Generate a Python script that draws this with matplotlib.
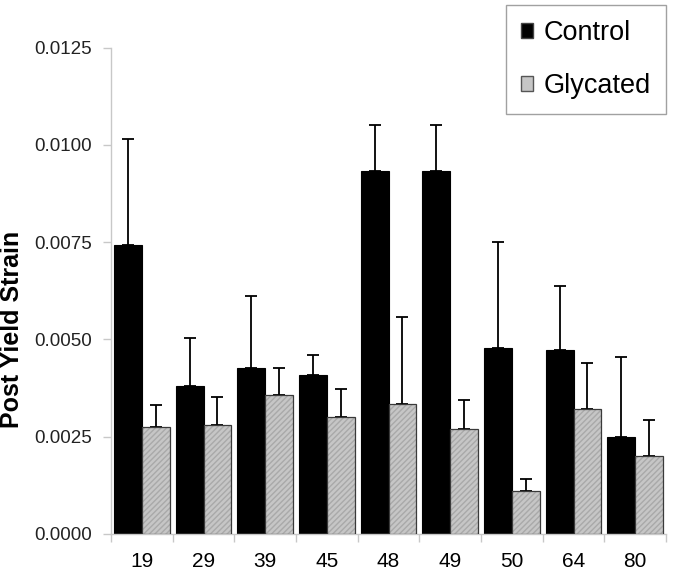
import numpy as np
import matplotlib
matplotlib.use("Agg")
import matplotlib.pyplot as plt
from matplotlib.patches import Patch

plt.rcParams['font.family'] = ['Liberation Sans', 'DejaVu Sans']

groups = ['19', '29', '39', '45', '48', '49', '50', '64', '80']
control = [0.00742, 0.00380, 0.00426, 0.00408, 0.00932, 0.00932, 0.00477, 0.00472, 0.00249]
control_top = [0.01016, 0.00503, 0.00611, 0.00459, 0.01050, 0.01050, 0.00750, 0.00637, 0.00454]
glycated = [0.00275, 0.00280, 0.00357, 0.00300, 0.00334, 0.00270, 0.00110, 0.00321, 0.00200]
glycated_top = [0.00331, 0.00352, 0.00426, 0.00372, 0.00557, 0.00344, 0.00141, 0.00439, 0.00293]

control = np.array(control)
glycated = np.array(glycated)
control_err = np.array(control_top) - control
glycated_err = np.array(glycated_top) - glycated

x = np.arange(len(groups))
w = 0.45

fig = plt.figure(figsize=(6.74, 5.72), dpi=100)
ax = fig.add_axes([111/674, 1-534/572, 555/674, (534-47.5)/572])

# control bars + upper error bars
ax.bar(x - w/2, control, w, color='black', edgecolor='black', linewidth=0.8, zorder=2)
ax.errorbar(x - w/2, control, yerr=[np.zeros_like(control_err), control_err],
            fmt='none', ecolor='black', elinewidth=1.3, capsize=4.5, capthick=1.3, zorder=1)

# glycated bars: hatched fill then a dark outline
ax.bar(x + w/2, glycated, w, color='#c6c6c6', edgecolor='#a9a9a9', hatch='//////',
       linewidth=0, zorder=2)
ax.bar(x + w/2, glycated, w, fill=False, edgecolor='#3a3a3a', linewidth=0.9, zorder=3)
ax.errorbar(x + w/2, glycated, yerr=[np.zeros_like(glycated_err), glycated_err],
            fmt='none', ecolor='black', elinewidth=1.3, capsize=4.5, capthick=1.3, zorder=1)

ax.set_xlim(-0.5, len(groups) - 0.5)
ax.set_ylim(0, 0.0125)
ax.set_yticks(np.arange(0, 0.01251, 0.0025))
ax.set_yticklabels([f'{v:.4f}' for v in np.arange(0, 0.01251, 0.0025)], fontsize=13.5)
ax.set_xticks(x)
ax.set_xticklabels(groups, fontsize=15)
ax.set_xticks(np.arange(-0.5, len(groups)), minor=True)
ax.tick_params(axis='x', which='major', length=0, pad=13)
ax.tick_params(axis='x', which='minor', length=6, color='#c8c8c8', width=1)
ax.tick_params(axis='y', length=6, color='#c8c8c8', width=1, pad=8, labelcolor='#222222')

for s in ['top', 'right']:
    ax.spines[s].set_visible(False)
ax.spines['left'].set_color('#c8c8c8')
ax.spines['bottom'].set_color('#c8c8c8')
ax.spines['left'].set_linewidth(1)
ax.spines['bottom'].set_linewidth(1)

ax.set_ylabel('Post Yield Strain', fontsize=18, fontweight='bold')
ax.yaxis.set_label_coords(-0.157, 0.42)

handles = [Patch(facecolor='black', edgecolor='#444444'),
           Patch(facecolor='#c6c6c6', edgecolor='#555555')]
leg = fig.legend(handles, ['Control', 'Glycated'], loc='upper right',
                 bbox_to_anchor=(666/674, 1-5/572), fontsize=19.5, frameon=True,
                 fancybox=False, handlelength=0.45, handleheight=0.45,
                 handletextpad=0.4, labelspacing=1.0, borderpad=0.55, borderaxespad=0)
leg.get_frame().set_edgecolor('#8a8a8a')
leg.get_frame().set_linewidth(1)

fig.savefig('out.png', dpi=100)
